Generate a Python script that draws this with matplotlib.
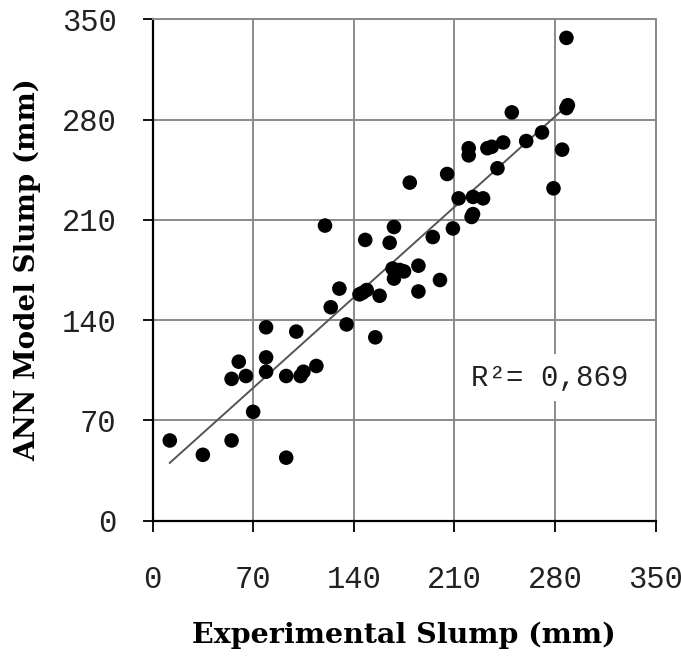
import numpy as np
import matplotlib
matplotlib.use("Agg")
import matplotlib.pyplot as plt

experimental = [12, 35, 55, 93, 70, 55, 60, 65, 79, 79, 79, 93, 100, 103, 105, 114,
                120, 124, 130, 135, 144, 146, 149, 155, 158, 148, 165, 168, 167, 168,
                172, 175, 179, 185, 185, 195, 200, 205, 209, 213, 223, 230, 223, 222,
                220, 220, 233, 236, 240, 244, 250, 260, 271, 285, 279, 288, 289, 288]
ann_model = [56, 46, 56, 44, 76, 99, 111, 101, 104, 114, 135, 101, 132, 101, 104, 108,
             206, 149, 162, 137, 158, 159, 161, 128, 157, 196, 194, 205, 176, 169,
             175, 174, 236, 178, 160, 198, 168, 242, 204, 225, 226, 225, 214, 212,
             260, 255, 260, 261, 246, 264, 285, 265, 271, 259, 232, 288, 290, 337]
ticks = [0, 70, 140, 210, 280, 350]
r2_text = "R²= 0,869"
x_label = "Experimental Slump (mm)"
y_label = "ANN Model Slump (mm)"

mono = ['Liberation Mono', 'DejaVu Sans Mono']
serif_b = ['DejaVu Serif']

fig = plt.figure(figsize=(6.81, 6.64), dpi=100)
ax = fig.add_axes([0.224, 0.2158, 0.7386, 0.7552])

x = np.array(experimental, dtype=float)
y = np.array(ann_model, dtype=float)

ax.set_xlim(0, 350)
ax.set_ylim(0, 350)
ax.set_xticks(ticks)
ax.set_yticks(ticks)
ax.grid(True, color='#8a8a8a', linewidth=1.4, zorder=0)
ax.set_axisbelow(True)

for s in ['top', 'right']:
    ax.spines[s].set_color('#8a8a8a')
    ax.spines[s].set_linewidth(1.4)
for s in ['left', 'bottom']:
    ax.spines[s].set_color('black')
    ax.spines[s].set_linewidth(1.6)

ax.tick_params(axis='y', direction='out', length=7, width=1.3, pad=19)
ax.tick_params(axis='x', direction='out', length=8, width=1.3, pad=24)
for lab in ax.get_xticklabels() + ax.get_yticklabels():
    lab.set_fontfamily(mono)
    lab.set_fontsize(22)
    lab.set_color('#222222')

# trend line
m, b = np.polyfit(x, y, 1)
xs = np.array([x.min(), x.max()])
ax.plot(xs, m * xs + b, color='#555555', linewidth=1.4, zorder=2)

ax.scatter(x, y, s=110, color='black', zorder=3, edgecolors='none')

ax.text(0.79, 0.285, r2_text, transform=ax.transAxes, fontsize=21,
        family=mono, color='#222222',
        ha='center', va='center', zorder=4,
        bbox=dict(facecolor='white', edgecolor='none', pad=7))

ax.set_xlabel(x_label, fontsize=20.5, fontweight='bold', family=serif_b, labelpad=19)
ax.set_ylabel(y_label, fontsize=20, fontweight='bold', family=serif_b, labelpad=15)

fig.savefig("out.png", dpi=100, facecolor='white')
